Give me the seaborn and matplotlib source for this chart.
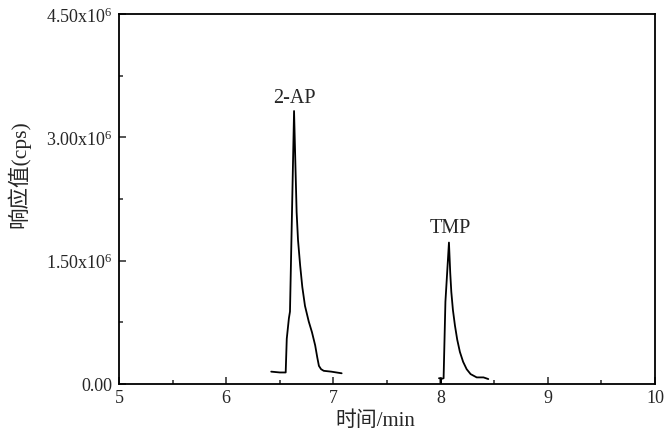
import matplotlib
matplotlib.use("Agg")
import matplotlib.pyplot as plt
import matplotlib.ticker as mticker
import seaborn as sns
import pandas as pd

# --- data (time in min, response in cps) ---
t_2ap = [6.42, 6.50, 6.555, 6.565, 6.585, 6.595, 6.633, 6.645, 6.657, 6.67,
         6.69, 6.71, 6.735, 6.77, 6.80, 6.83, 6.85, 6.865, 6.885, 6.91, 6.98, 7.077]
v_2ap = [0.15e6, 0.14e6, 0.14e6, 0.55e6, 0.80e6, 0.88e6, 3.32e6, 2.70e6, 2.09e6,
         1.75e6, 1.44e6, 1.18e6, 0.95e6, 0.76e6, 0.63e6, 0.47e6, 0.32e6, 0.22e6,
         0.18e6, 0.16e6, 0.15e6, 0.13e6]
t_tmp = [7.985, 7.998, 7.999, 8.003, 8.004, 8.028, 8.045, 8.078, 8.09, 8.10,
         8.115, 8.134, 8.155, 8.18, 8.21, 8.243, 8.28, 8.337, 8.40, 8.445]
v_tmp = [0.07e6, 0.07e6, 0.0, 0.0, 0.06e6, 0.07e6, 1.0e6, 1.72e6, 1.35e6, 1.12e6,
         0.90e6, 0.71e6, 0.54e6, 0.39e6, 0.27e6, 0.18e6, 0.12e6, 0.08e6, 0.08e6, 0.06e6]
peak_names = ["2-AP", "TMP"]
peak_label_pos = [(6.64, 3.49e6), (8.09, 1.90e6)]
x_ticks = [5, 6, 7, 8, 9, 10]
y_ticks = [0, 1.5e6, 3.0e6, 4.5e6]
y_tick_labels = ["0.00", r"$\mathregular{1.50x10^{6}}$",
                 r"$\mathregular{3.00x10^{6}}$", r"$\mathregular{4.50x10^{6}}$"]

sns.set_style("ticks")
plt.rcParams['font.family'] = ['Liberation Serif', 'Noto Sans CJK SC', 'DejaVu Sans']
plt.rcParams['mathtext.fontset'] = 'custom'
plt.rcParams['mathtext.rm'] = 'Liberation Serif'

fig = plt.figure(figsize=(6.7, 4.35), dpi=100)
ax = fig.add_axes([0.1776, 0.115, 0.80, 0.8505])

df1 = pd.DataFrame({"t": t_2ap, "v": v_2ap})
df2 = pd.DataFrame({"t": t_tmp, "v": v_tmp})
sns.lineplot(data=df1, x="t", y="v", ax=ax, color="black", linewidth=1.3, sort=False)
sns.lineplot(data=df2, x="t", y="v", ax=ax, color="black", linewidth=1.3, sort=False)

for name, (x, y) in zip(peak_names, peak_label_pos):
    ax.text(x, y, name, ha="center", va="center", fontsize=14.5,
            family=['Liberation Serif'])

ax.set_xlim(5, 10)
ax.set_ylim(0, 4.5e6)
ax.set_xticks(x_ticks)
ax.set_xticklabels([str(v) for v in x_ticks])
ax.set_yticks(y_ticks)
ax.set_yticklabels(y_tick_labels)
ax.xaxis.set_minor_locator(mticker.MultipleLocator(0.5))
ax.yaxis.set_minor_locator(mticker.MultipleLocator(0.75e6))
ax.tick_params(which="both", direction="in", labelsize=13, width=1.1,
               top=False, right=False)
ax.tick_params(which="major", length=5)
ax.tick_params(which="minor", length=3)
ax.tick_params(axis="y", pad=5)
for s in ax.spines.values():
    s.set_visible(True)
    s.set_linewidth(1.3)
    s.set_color("black")

ax.set_xlabel("时间/min", fontsize=15)
ax.set_ylabel("响应值(cps)", fontsize=15.5)
ax.xaxis.set_label_coords(0.478, -0.072)
ax.yaxis.set_label_coords(-0.166, 0.57)

fig.savefig("out.png", dpi=100)
